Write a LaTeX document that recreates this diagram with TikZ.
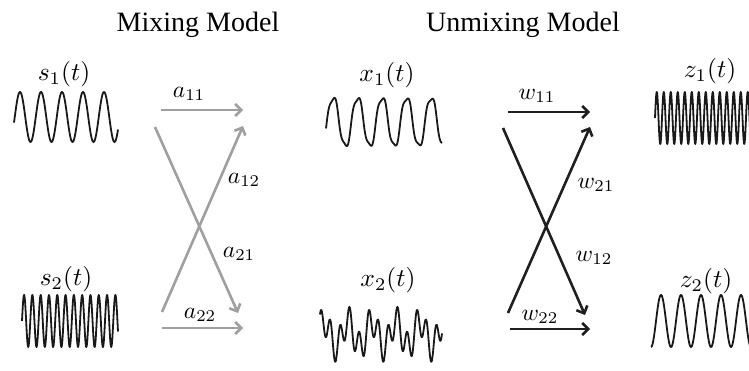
\documentclass[tikz,border=0pt]{standalone}
\usepackage{fontspec}
\setmainfont{Liberation Serif}
\usepackage{tikz}
\usetikzlibrary{arrows.meta}

\begin{document}
\begin{tikzpicture}[
  x=1pt, y=-1pt,
  wave/.style={line width=1.8pt, black!90, line join=round},
  mixarrow/.style={line width=2.6pt, gray!75, -{Straight Barb[length=6pt, width=12pt]}},
  unmixarrow/.style={line width=2.6pt, black!88, -{Straight Barb[length=6pt, width=12pt]}},
  title/.style={font=\fontsize{28}{32}\selectfont},
  sig/.style={scale=2.55},
  coef/.style={scale=2.35, text=black, inner sep=0.5pt},
]

\useasboundingbox (0,0) rectangle (749,371);
\clip (0,0) rectangle (749,371);

% --- Titles ---
\node[title] (mixtitle) at (198, 25) {Mixing Model};
\node[title] (unmixtitle) at (523, 25) {Unmixing Model};

% --- Sources ---
\node[sig] (s1lbl) at (64, 74) {$s_1(t)$};
\draw[wave] plot[domain=0:104, samples=220] ({14+\x}, {117 - 25*sin(\x/21*360 - 13)});
\node[sig] (s2lbl) at (66, 279) {$s_2(t)$};
\draw[wave] plot[domain=0:96, samples=400] ({22+\x}, {321 - 26*sin(\x/8.3*360)});

% --- Mixing weights ---
\coordinate (a11s) at (161, 110);
\coordinate (a11e) at (243, 110);
\coordinate (a21s) at (155, 127);
\coordinate (a21e) at (238, 313);
\coordinate (a12s) at (162, 312);
\coordinate (a12e) at (243, 126);
\coordinate (a22s) at (162, 328);
\coordinate (a22e) at (243, 328);
\draw[mixarrow] (a11s) -- (a11e);
\draw[mixarrow] (a21s) -- (a21e);
\draw[mixarrow] (a12s) -- (a12e);
\draw[mixarrow] (a22s) -- (a22e);
\node[coef] (a11lbl) at (189, 94) {$a_{11}$};
\node[coef] (a12lbl) at (244, 180) {$a_{12}$};
\node[coef] (a21lbl) at (239, 254) {$a_{21}$};
\node[coef] (a22lbl) at (200, 315) {$a_{22}$};

% --- Observed mixtures ---
\node[sig] (x1lbl) at (387, 75) {$x_1(t)$};
\draw[wave] plot[domain=0:116, samples=400] ({326+\x}, {122 - 25*sin(\x/24.5*360 - 15) - 3*sin(\x/8.2*360)});
\node[sig] (x2lbl) at (388, 280) {$x_2(t)$};
\draw[wave] plot[domain=0:122, samples=400] ({320+\x}, {334 - 13*sin(\x/24*360 + 30) - 15*sin(\x/9.6*360 + 60)});

% --- Unmixing weights ---
\coordinate (w11s) at (508, 112);
\coordinate (w11e) at (590, 112);
\coordinate (w12s) at (503, 128);
\coordinate (w12e) at (585, 315);
\coordinate (w21s) at (508, 313);
\coordinate (w21e) at (590, 127);
\coordinate (w22s) at (510, 329);
\coordinate (w22e) at (590, 329);
\draw[unmixarrow] (w11s) -- (w11e);
\draw[unmixarrow] (w12s) -- (w12e);
\draw[unmixarrow] (w21s) -- (w21e);
\draw[unmixarrow] (w22s) -- (w22e);
\node[coef] (w11lbl) at (537, 96) {$w_{11}$};
\node[coef] (w21lbl) at (596, 185) {$w_{21}$};
\node[coef] (w12lbl) at (594, 258) {$w_{12}$};
\node[coef] (w22lbl) at (540, 317) {$w_{22}$};

% --- Recovered sources ---
\node[sig] (z1lbl) at (710, 71) {$z_1(t)$};
\draw[wave] plot[domain=0:100, samples=500] ({655+\x}, {118 - 26*sin(\x/7*360)});
\node[sig] (z2lbl) at (706, 281) {$z_2(t)$};
\draw[wave] plot[domain=0:100, samples=250] ({651+\x}, {321 - 26*sin(\x/20*360 - 90)});

\end{tikzpicture}
\end{document}
